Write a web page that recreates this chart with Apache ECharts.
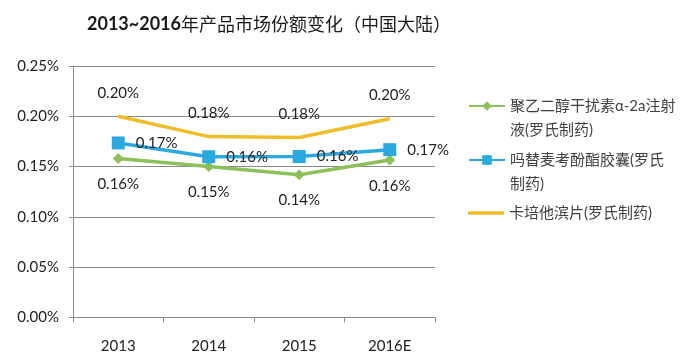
<!DOCTYPE html>
<html><head><meta charset="utf-8">
<script src="https://cdn.jsdelivr.net/npm/echarts@6/dist/echarts.min.js"></script>
<style>html,body{margin:0;padding:0;background:#fff}#c{width:700px;height:356px}</style>
</head><body><div id="c"></div>
<script>
const titleYears = '2013~2016';
const titleRest = '年产品市场份额变化（中国大陆）';
const categories = ['2013', '2014', '2015', '2016E'];
const seriesNames = ['聚乙二醇干扰素α-2a注射液(罗氏制药)', '吗替麦考酚酯胶囊(罗氏制药)', '卡培他滨片(罗氏制药)'];
const legendLabels = [' \n聚乙二醇干扰素α-2a注射\n液(罗氏制药)', ' \n吗替麦考酚酯胶囊(罗氏\n制药)', '卡培他滨片(罗氏制药)'];
const pegIfn = [0.158, 0.150, 0.142, 0.1565];
const mycophenolate = [0.1735, 0.1598, 0.160, 0.1668];
const capecitabine = [0.200, 0.1798, 0.179, 0.1975];
const yTicks = { min: 0, max: 0.25, interval: 0.05 };

const FONT = 'Lato, "Noto Sans CJK SC", sans-serif';
const colors = ['#8cc05a', '#2ba9df', '#efbd2a'];
const chart = echarts.init(document.getElementById('c'), null, { renderer: 'canvas' });
const fmt = v => v.toFixed(2) + '%';

function legendFor(i, top, extra) {
  return Object.assign({
    orient: 'vertical', left: 463, top: top, data: [seriesNames[i]],
    itemWidth: 36, itemHeight: 12, itemGap: 0,
    formatter: () => legendLabels[i],
    textStyle: { fontFamily: FONT, fontSize: 15, color: '#404040', lineHeight: 24 }
  }, extra || {});
}

chart.setOption({
  animation: false,
  color: colors,
  title: {
    text: '{y|' + titleYears + '}{c|' + titleRest + '}', left: 82, top: 10,
    textStyle: { rich: {
      y: { fontFamily: 'Lato, sans-serif', fontWeight: 'bold', fontSize: 18, color: '#1a1a1a' },
      c: { fontFamily: '"Noto Sans CJK SC", sans-serif', fontWeight: 'normal', fontSize: 18, color: '#1a1a1a' }
    } }
  },
  legend: [
    legendFor(0, 65),
    legendFor(1, 119),
    legendFor(2, 196, { itemHeight: 3.5, data: [{ name: seriesNames[2], icon: 'rect' }] })
  ],
  grid: { left: 73, right: 265, top: 66, bottom: 38.5 },
  xAxis: {
    type: 'category', data: categories, boundaryGap: true,
    axisLine: { lineStyle: { color: '#8a8a8a', width: 1 } },
    axisTick: { show: true, length: 5, lineStyle: { color: '#8a8a8a' } },
    axisLabel: { fontFamily: FONT, fontSize: 15, color: '#222', margin: 21 }
  },
  yAxis: {
    type: 'value', min: yTicks.min, max: yTicks.max, interval: yTicks.interval,
    axisLine: { show: true, lineStyle: { color: '#8a8a8a' } },
    axisTick: { show: true, length: 4, lineStyle: { color: '#8a8a8a' } },
    splitLine: { lineStyle: { color: '#8a8a8a', width: 1 } },
    axisLabel: { fontFamily: FONT, fontSize: 15, color: '#222', margin: 14, formatter: v => v.toFixed(2) + '%' }
  },
  series: [
    { name: seriesNames[0], type: 'line', data: pegIfn, symbol: 'diamond', symbolSize: 11,
      lineStyle: { width: 3.5, color: colors[0] }, itemStyle: { color: colors[0] },
      label: { show: true, position: 'bottom', distance: 13, fontFamily: FONT, fontSize: 15, color: '#222', formatter: p => fmt(p.value) } },
    { name: seriesNames[1], type: 'line', data: mycophenolate, symbol: 'rect', symbolSize: 13,
      lineStyle: { width: 3.5, color: colors[1] }, itemStyle: { color: colors[1] },
      label: { show: true, position: 'right', distance: 11, fontFamily: FONT, fontSize: 15, color: '#222', formatter: p => fmt(p.value) } },
    { name: seriesNames[2], type: 'line', data: capecitabine, symbol: 'circle', symbolSize: 0, showSymbol: true,
      lineStyle: { width: 3.5, color: colors[2] }, itemStyle: { color: colors[2] },
      label: { show: true, position: 'top', distance: 16, fontFamily: FONT, fontSize: 15, color: '#222', formatter: p => fmt(p.value) } }
  ]
});
</script></body></html>
